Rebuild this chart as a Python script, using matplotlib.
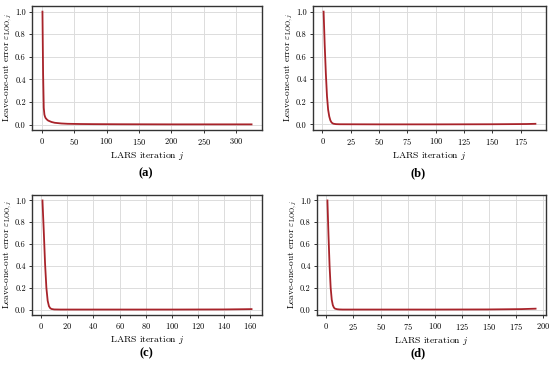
import matplotlib
matplotlib.use("Agg")
import matplotlib.pyplot as plt
from matplotlib.ticker import MultipleLocator

plt.rcParams['font.family'] = ['cmr10', 'DejaVu Serif']
plt.rcParams['mathtext.fontset'] = 'cm'
plt.rcParams['axes.formatter.use_mathtext'] = True

# Panel (a)
a_j = [1, 2, 3, 4, 5, 6, 8, 10, 15, 20, 30, 40, 60, 80, 120, 200, 324]
a_err = [1.0, 0.45, 0.15, 0.09, 0.07, 0.058, 0.045, 0.036, 0.024, 0.017,
         0.011, 0.008, 0.006, 0.005, 0.004, 0.003, 0.003]
# Panel (b)
b_j = [1, 2, 3, 4, 5, 6, 7, 8, 9, 10, 12, 15, 50, 100, 150, 180, 188]
b_err = [1.0, 0.7, 0.45, 0.25, 0.13, 0.07, 0.035, 0.017, 0.009, 0.005,
         0.002, 0.001, 0.0, 0.0, 0.001, 0.003, 0.005]
# Panel (c)
c_j = [1, 2, 3, 4, 5, 6, 7, 8, 10, 15, 50, 100, 140, 155, 161]
c_err = [1.0, 0.72, 0.42, 0.2, 0.08, 0.03, 0.012, 0.005, 0.001, 0.0,
         0.0, 0.0, 0.001, 0.003, 0.004]
# Panel (d)
d_j = [1, 2, 3, 4, 5, 6, 7, 8, 10, 12, 15, 50, 100, 150, 180, 193]
d_err = [1.0, 0.68, 0.4, 0.2, 0.09, 0.04, 0.018, 0.008, 0.003, 0.001,
         0.0, 0.0, 0.0, 0.001, 0.004, 0.008]

panels = [
    ("(a)", a_j, a_err, 50, [32, 6, 262, 130], 146, 173),
    ("(b)", b_j, b_err, 25, [313, 6, 546, 130], 418, 173),
    ("(c)", c_j, c_err, 20, [32, 195, 262, 315], 146, 353),
    ("(d)", d_j, d_err, 25, [317, 195, 546, 315], 418, 353),
]

W, H = 550, 372
fig = plt.figure(figsize=(W / 100, H / 100), dpi=100)

for lab, xs, ys, step, (x0, y0, x1, y1), lx, ly in panels:
    ax = fig.add_axes([x0 / W, 1 - y1 / H, (x1 - x0) / W, (y1 - y0) / H])
    ax.plot(xs, ys, color='#a8232a', lw=1.3)
    ax.xaxis.set_major_locator(MultipleLocator(step))
    ax.yaxis.set_major_locator(MultipleLocator(0.2))
    ax.yaxis.set_major_formatter(matplotlib.ticker.FormatStrFormatter('%.1f'))
    ax.grid(True, color='#dcdcdc', lw=0.7)
    ax.set_axisbelow(True)
    for s in ax.spines.values():
        s.set_color('#333333')
        s.set_linewidth(1.0)
    ax.tick_params(labelsize=6, length=2.5, width=0.7, color='#333333', pad=2)
    ax.set_xlabel(r'LARS iteration $j$', fontsize=7, labelpad=2)
    ax.set_ylabel(r'Leave-one-out error $\varepsilon_{\mathrm{LOO},j}$', fontsize=6.7, labelpad=1)
    fig.text(lx / W, 1 - ly / H, lab, ha='center', va='center', fontsize=9,
             fontweight='bold', family='Liberation Serif')

fig.savefig('out.png', dpi=100)
